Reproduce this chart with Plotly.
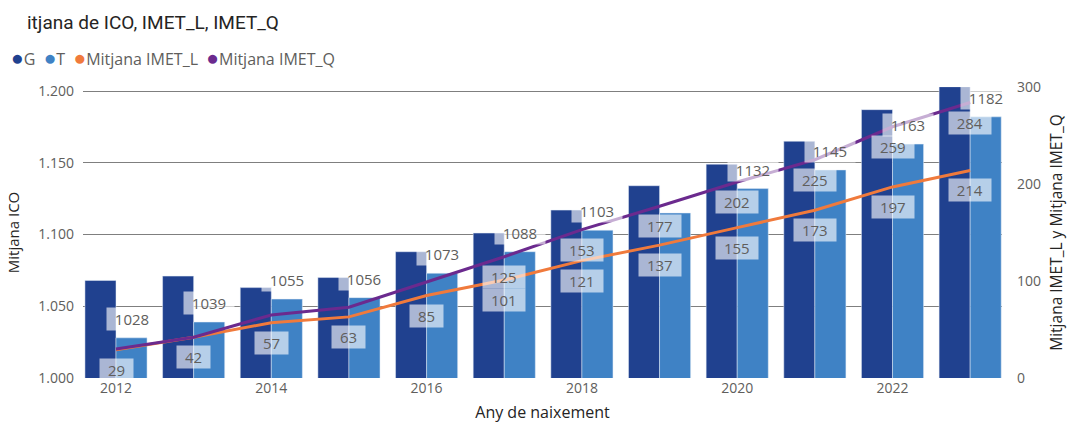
import plotly.graph_objects as go

years = [2012, 2013, 2014, 2015, 2016, 2017, 2018, 2019, 2020, 2021, 2022, 2023]
ico_g = [1068, 1071, 1063, 1070, 1088, 1101, 1117, 1134, 1149, 1165, 1187, 1203]
ico_t = [1028, 1039, 1055, 1056, 1073, 1088, 1103, 1115, 1132, 1145, 1163, 1182]
imet_l = [29, 42, 57, 63, 85, 101, 121, 137, 155, 173, 197, 214]
imet_q = [30, 42, 65, 73, 99, 125, 153, 177, 202, 225, 259, 284]

# which data labels power bi actually showed
t_show = [1, 1, 1, 1, 1, 1, 1, 0, 1, 1, 1, 1]
q_show = [0, 0, 0, 0, 0, 1, 1, 1, 1, 1, 1, 1]

c_g = "#20418f"
c_t = "#3f82c5"
c_l = "#f07a3c"
c_q = "#6b2a8e"
grey = "#605e5c"
dark = "#252423"
font = "Segoe UI, Open Sans, sans-serif"

fig = go.Figure()
fig.add_trace(go.Bar(x=years, y=ico_g, name="G", marker_color=c_g, showlegend=False))
fig.add_trace(go.Bar(x=years, y=ico_t, name="T", marker_color=c_t, showlegend=False))
fig.add_trace(go.Scatter(x=years, y=imet_l, name="Mitjana IMET_L", yaxis="y2", mode="lines",
                         line=dict(color=c_l, width=3), showlegend=False))
fig.add_trace(go.Scatter(x=years, y=imet_q, name="Mitjana IMET_Q", yaxis="y2", mode="lines",
                         line=dict(color=c_q, width=3), showlegend=False))


def label(x, y, yref, txt, shift, xshift=0):
    fig.add_annotation(x=x, y=y, xref="x", yref=yref, text=str(txt), showarrow=False,
                       yshift=shift, xshift=xshift, bgcolor="rgba(255,255,255,0.62)",
                       borderpad=2, width=len(str(txt)) * 8.5 + 12, height=18,
                       font=dict(family=font, size=15, color=grey))


for i, yr in enumerate(years):
    if t_show[i]:
        label(yr, ico_t[i], "y", ico_t[i], 19, xshift=15.5)
    label(yr, imet_l[i], "y2", imet_l[i], -20)
    if q_show[i]:
        label(yr, imet_q[i], "y2", imet_q[i], -20)

# compact legend like power bi
names = ["G", "T", "Mitjana IMET_L", "Mitjana IMET_Q"]
cols = [c_g, c_t, c_l, c_q]
leg = "  ".join(f"<span style='color:{c};font-size:21px'>●</span>{n}" for n, c in zip(names, cols))
fig.add_annotation(xref="paper", yref="paper", x=-0.0805, y=1.103, xanchor="left", yanchor="middle",
                   text=leg, showarrow=False, font=dict(family=font, size=16, color=grey))

fig.update_layout(
    width=1067, height=423,
    margin=dict(l=83, r=65, t=87, b=45),
    paper_bgcolor="white", plot_bgcolor="white",
    separators=",.",
    barmode="group", bargap=0.2, bargroupgap=0,
    title=dict(text="itjana de ICO, IMET_L, IMET_Q", x=27 / 1067, xanchor="left",
               y=1 - 22 / 423, yanchor="middle", font=dict(family="Roboto", size=19, color=dark)),
    xaxis=dict(range=[2011.575, 2023.41], tickvals=[2012, 2014, 2016, 2018, 2020, 2022],
               showgrid=False, zeroline=False, ticks="", showline=False, automargin=False,
               tickfont=dict(family=font, size=14, color=grey),
               title=dict(text="Any de naixement", font=dict(family=font, size=16, color=dark))),
    yaxis=dict(range=[1000, 1202.8], tickvals=[1000, 1050, 1100, 1150, 1200], tickformat=",d",
               showgrid=True, gridcolor="#7f7f7f", gridwidth=1.3, zeroline=False, automargin=False,
               tickfont=dict(family=font, size=14, color=grey), ticks="", ticklabelstandoff=8,
               title=dict(text="Mitjana ICO", font=dict(family=font, size=15, color=dark))),
    yaxis2=dict(range=[0, 300], tickvals=[0, 100, 200, 300], overlaying="y", side="right",
                showgrid=False, zeroline=False, ticks="", ticklabelstandoff=14, automargin=False,
                tickfont=dict(family=font, size=14, color=grey),
                title=dict(text="Mitjana IMET_L y Mitjana IMET_Q",
                           font=dict(family=font, size=15.5, color=dark))),
)

# the page body has an 8px margin by default; drop it so the chart sits at 0,0
fig.write_html("out.html", config={"displayModeBar": False},
               post_script="document.body.style.margin='0';")
